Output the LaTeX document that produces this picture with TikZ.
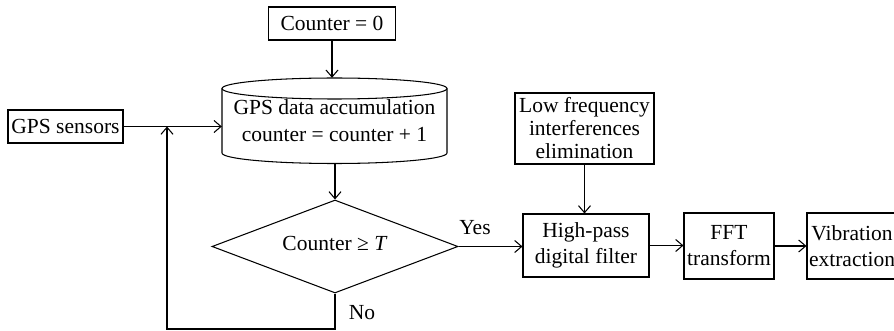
\documentclass[tikz,border=0pt]{standalone}
\usepackage{fontspec}
\setmainfont{Liberation Serif}
\usetikzlibrary{arrows.meta,shapes.geometric}

\tikzset{
  box/.style={draw, line width=1.05pt, inner sep=0pt, align=center},
  datastore/.style={inner sep=0pt, align=center, minimum width=225pt, minimum height=85.5pt},
  decision/.style={draw, line width=1.05pt, diamond, inner sep=0pt, aspect=2.645,
                   minimum width=246pt, minimum height=93pt},
  flow/.style={line width=1.05pt, -{Straight Barb[length=7pt,width=12pt,line width=1.05pt]}},
  lbl/.style={inner sep=0pt}
}

\begin{document}
\begin{tikzpicture}[x=1pt,y=-1pt,font=\fontsize{21.5}{26}\selectfont]
  \useasboundingbox (0,0) rectangle (894,331);
  \clip (0,0) rectangle (894,331);

  % sources
  \node[box, minimum width=127pt, minimum height=33pt] (init) at (332,23.5) {Counter = 0};
  \node[box, minimum width=115pt, minimum height=33pt] (gps) at (65.5,126.5) {GPS sensors};

  % accumulation store (cylinder drawn by hand around the text node)
  \node[datastore] (acc) at (334.5,120.75) {GPS data accumulation\\[1pt]counter = counter + 1};
  \draw[line width=1.05pt] (334.5,88.5) ellipse [x radius=112.5pt, y radius=10.5pt];
  \draw[line width=1.05pt] (222,88.5) -- (222,153)
        arc[start angle=180, end angle=360, x radius=112.5pt, y radius=10.5pt] -- (447,88.5);

  % decision
  \node[decision] (dec) at (335,246.5) {};
  \node[lbl] at (335,243) {Counter ≥ \textit{T}};

  % processing chain
  \node[box, minimum width=139pt, minimum height=71pt,
        font=\fontsize{21.5}{23}\selectfont] (lf) at (584.5,128.5)
        {Low frequency\\interferences\\elimination};
  \node[box, minimum width=126pt, minimum height=63pt] (hp) at (586,245.5) {High-pass\\digital filter};
  \node[box, minimum width=90pt, minimum height=66pt] (fft) at (729,246) {FFT\\transform};
  \node[box, minimum width=90pt, minimum height=66pt] (vib) at (852,246) {Vibration\\extraction};

  % connectors
  \draw[flow] (init.south) -- (init.south |- acc.north);
  \draw[flow] (gps.east) -- (gps.east -| acc.west);
  \draw[flow] (acc.south -| dec.north) -- (dec.north);
  \coordinate (loop) at (167,329);
  \draw[flow] (dec.south) |- (loop) -- (loop |- gps.east);
  \node[lbl] at (362,313) {No};

  \draw[flow] (dec.east) -- (dec.east -| hp.west);
  \node[lbl] at (475,228) {Yes};
  \draw[flow] (lf.south) -- (lf.south |- hp.north);
  \draw[flow] (hp.east) -- (hp.east -| fft.west);
  \draw[flow] (fft.east) -- (fft.east -| vib.west);
\end{tikzpicture}
\end{document}
